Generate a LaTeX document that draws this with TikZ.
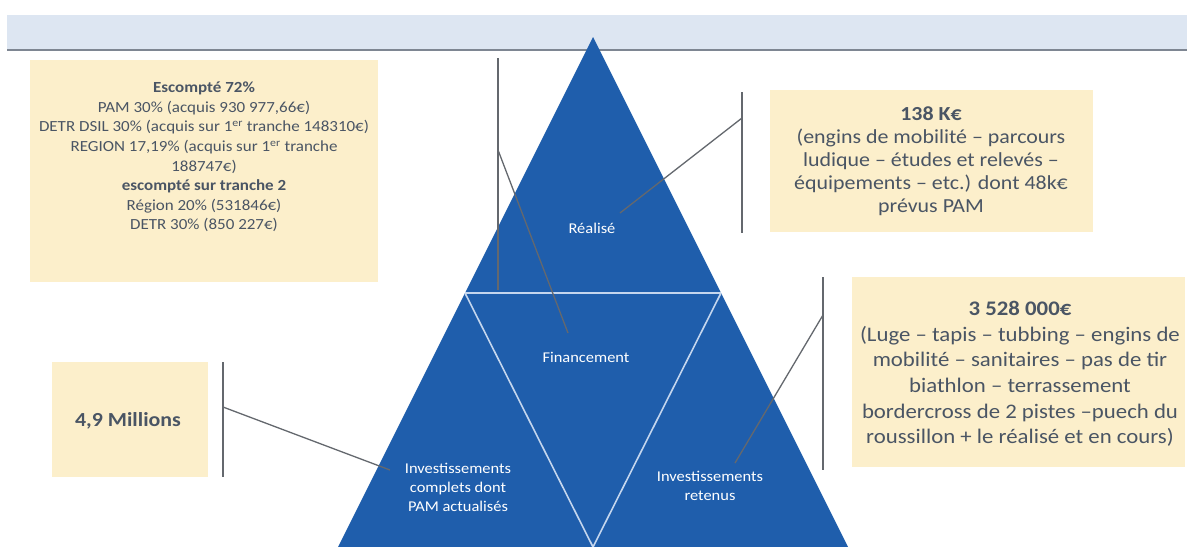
\documentclass[tikz,border=0pt]{standalone}
\usepackage{fontspec}
\setmainfont{Carlito}[FakeStretch=1.1]
\usepackage{xcolor}
\usepackage{tikz}
\usetikzlibrary{backgrounds}
\pgfdeclarelayer{edgelayer}
\pgfdeclarelayer{nodelayer}
\pgfsetlayers{background,edgelayer,nodelayer,main}
\definecolor{pyrblue}{RGB}{31,94,172}
\definecolor{notefill}{RGB}{252,239,203}
\definecolor{notetext}{RGB}{74,85,100}
\definecolor{bandfill}{RGB}{221,230,242}
\definecolor{bandline}{RGB}{126,134,146}
\definecolor{leadergrey}{RGB}{100,104,110}
\definecolor{divider}{RGB}{196,214,238}
\tikzstyle{none}=[inner sep=0mm]
\tikzstyle{note}=[fill=notefill,inner sep=0mm,minimum width=0pt,minimum height=0pt]
\tikzstyle{notetxt}=[inner sep=0mm,align=center,text=notetext]
\tikzstyle{pyrtxt}=[inner sep=0mm,align=center,text=white,font=\fontsize{15}{19}\selectfont]
\tikzstyle{leader}=[draw=leadergrey,line width=1.3bp]
\tikzstyle{divide}=[draw=divider,line width=1.6bp]

\begin{document}
\begin{tikzpicture}[x=10bp,y=10bp]
	\useasboundingbox (0,0) rectangle (118.7,-54.7);
	\begin{pgfonlayer}{background}
		\fill [white] (0,0) rectangle (118.7,-54.7);
		\fill [bandfill] (0.7,-1.5) rectangle (118.7,-5);
		\draw [bandline,line width=1.5bp] (0.7,-5) -- (118.7,-5);
		\fill [pyrblue] (59.3,-3.7) -- (84.8,-54.7) -- (33.8,-54.7) -- cycle;
		\node [style=note,minimum width=348bp,minimum height=222bp] (0) at (20.4,-17.1) {};
		\node [style=note,minimum width=323bp,minimum height=142bp] (1) at (93.15,-16.1) {};
		\node [style=note,minimum width=333bp,minimum height=190bp] (2) at (101.85,-37.2) {};
		\node [style=note,minimum width=156bp,minimum height=115bp] (3) at (13,-41.95) {};
	\end{pgfonlayer}
	\begin{pgfonlayer}{nodelayer}
		\node [style=notetxt,font=\fontsize{15.5}{19.7}\selectfont] (4) at (20.4,-15.7) {{\bfseries Escompté 72\%}\\PAM 30\% (acquis 930 977,66€)\\DETR DSIL 30\% (acquis sur 1\textsuperscript{er} tranche 148310€)\\REGION 17,19\% (acquis sur 1\textsuperscript{er} tranche\\188747€)\\{\bfseries escompté sur tranche 2}\\Région 20\% (531846€)\\DETR 30\% (850 227€)};
		\node [style=notetxt,font=\fontsize{20}{23}\selectfont] (5) at (93.1,-16.1) {{\bfseries 138 K€}\\(engins de mobilité -- parcours\\ludique -- études et relevés --\\équipements -- etc.) dont 48k€\\prévus PAM};
		\node [style=notetxt,font=\fontsize{20.8}{25.8}\selectfont] (6) at (102,-37.4) {{\bfseries 3 528 000€}\\(Luge -- tapis -- tubbing -- engins de\\mobilité -- sanitaires -- pas de tir\\biathlon -- terrassement\\bordercross de 2 pistes --puech du\\roussillon + le réalisé et en cours)};
		\node [style=notetxt,font=\fontsize{20}{24}\bfseries] (7) at (12.8,-42.1) {4,9 Millions};
		\node [style=pyrtxt] (8) at (59.2,-22.8) {Réalisé};
		\node [style=pyrtxt] (9) at (58.6,-35.7) {Financement};
		\node [style=pyrtxt] (10) at (45.8,-48.7) {Investissements\\complets dont\\PAM actualisés};
		\node [style=pyrtxt] (11) at (71,-48.6) {Investissements\\retenus};
		\node [style=none] (12) at (49.8,-5.8) {};
		\node [style=none] (13) at (49.8,-29) {};
		\node [style=none] (14) at (49.8,-15) {};
		\node [style=none] (15) at (56.8,-33.3) {};
		\node [style=none] (16) at (74.2,-9.2) {};
		\node [style=none] (17) at (74.2,-23.3) {};
		\node [style=none] (18) at (74.2,-11.8) {};
		\node [style=none] (19) at (62,-21.3) {};
		\node [style=none] (20) at (82.3,-27.7) {};
		\node [style=none] (21) at (82.3,-47) {};
		\node [style=none] (22) at (82.3,-31.5) {};
		\node [style=none] (23) at (73.5,-46.3) {};
		\node [style=none] (24) at (22.3,-36.2) {};
		\node [style=none] (25) at (22.3,-47.7) {};
		\node [style=none] (26) at (22.3,-40.7) {};
		\node [style=none] (27) at (39,-47) {};
		\node [style=none] (28) at (46.5,-29.3) {};
		\node [style=none] (29) at (72.1,-29.3) {};
		\node [style=none] (30) at (59.3,-54.7) {};
	\end{pgfonlayer}
	\begin{pgfonlayer}{edgelayer}
		\draw [style=divide] (28.center) to (29.center);
		\draw [style=divide] (28.center) to (30.center);
		\draw [style=divide] (29.center) to (30.center);
		\draw [style=leader] (12.center) to (13.center);
		\draw [style=leader] (14.center) to (15.center);
		\draw [style=leader] (16.center) to (17.center);
		\draw [style=leader] (18.center) to (19.center);
		\draw [style=leader] (20.center) to (21.center);
		\draw [style=leader] (22.center) to (23.center);
		\draw [style=leader] (24.center) to (25.center);
		\draw [style=leader] (26.center) to (27.center);
	\end{pgfonlayer}
\end{tikzpicture}
\end{document}
